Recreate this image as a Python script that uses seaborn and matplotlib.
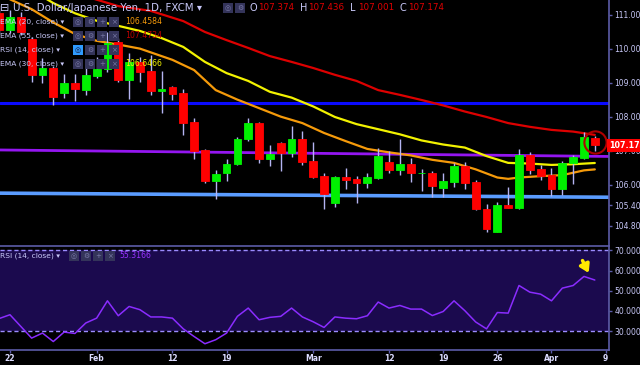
import numpy as np
import pandas as pd
import seaborn as sns
import matplotlib.pyplot as plt
from matplotlib.patches import Rectangle
from matplotlib.transforms import blended_transform_factory

# daily USD/JPY candles, Jan 19 .. Apr 6 2018 (weekdays)
dates = pd.bdate_range('2018-01-19', '2018-04-06')
opens = [111.06, 110.56, 110.94, 110.29, 109.24, 109.44, 108.71, 109.00, 108.79, 109.21,
         109.41, 110.21, 109.09, 109.62, 109.35, 108.76, 108.88, 108.71, 107.85, 107.03,
         106.12, 106.35, 106.62, 107.35, 107.82, 106.76, 107.24, 106.94, 107.35, 106.71,
         106.26, 105.47, 106.24, 106.18, 106.06, 106.21, 106.68, 106.44, 106.62, 106.34,
         106.35, 105.91, 106.09, 106.56, 106.09, 105.29, 104.62, 105.41, 105.32, 106.88,
         106.47, 106.29, 105.88, 106.65, 106.79, 107.374]
highs = [111.29, 111.15, 111.09, 110.35, 109.74, 109.50, 109.26, 109.26, 109.53, 109.76,
         110.50, 110.32, 109.88, 109.76, 109.82, 109.35, 108.91, 108.82, 107.97, 107.06,
         106.44, 106.76, 107.41, 107.97, 107.85, 107.18, 107.26, 107.74, 107.59, 107.26,
         106.35, 106.26, 106.50, 106.26, 106.35, 107.09, 107.00, 107.35, 106.79, 106.47,
         106.41, 106.35, 106.65, 106.68, 106.15, 105.44, 105.50, 105.94, 107.06, 106.97,
         106.59, 106.50, 106.71, 106.88, 107.56, 107.436]
lows = [110.44, 110.47, 110.41, 109.03, 109.00, 108.35, 108.56, 108.47, 108.65, 109.15,
        109.32, 109.03, 108.53, 109.03, 108.65, 108.12, 108.50, 107.47, 106.76, 106.06,
        105.59, 106.12, 106.59, 107.29, 106.65, 106.56, 106.41, 106.82, 106.59, 106.21,
        105.29, 105.35, 105.88, 105.47, 105.91, 106.18, 106.35, 106.29, 106.09, 105.82,
        105.65, 105.65, 105.94, 105.88, 105.26, 104.62, 104.62, 105.32, 105.30, 106.32,
        106.15, 105.68, 105.71, 106.03, 106.76, 107.001]
closes = [110.56, 110.94, 110.50, 109.24, 109.44, 108.59, 109.00, 108.82, 109.24, 109.41,
          110.18, 109.09, 109.62, 109.32, 108.76, 108.82, 108.68, 107.82, 107.00, 106.12,
          106.32, 106.62, 107.35, 107.82, 106.76, 106.91, 106.94, 107.35, 106.68, 106.24,
          105.74, 106.24, 106.15, 106.06, 106.24, 106.85, 106.44, 106.62, 106.35, 106.36,
          105.97, 106.12, 106.56, 106.06, 105.29, 104.71, 105.41, 105.32, 106.88, 106.44,
          106.26, 105.88, 106.65, 106.82, 107.41, 107.174]

rsi = [36.2, 38.1, 32.3, 26.5, 29.0, 24.8, 29.5, 28.8, 34.0, 36.4,
       45.0, 37.6, 42.2, 40.6, 37.0, 37.0, 36.4, 31.1, 27.3, 23.7,
       25.7, 29.0, 37.3, 41.4, 35.6, 36.8, 37.3, 41.4, 37.0, 34.6,
       31.8, 37.0, 36.4, 36.1, 37.6, 44.4, 41.4, 42.7, 40.9, 40.9,
       37.7, 39.7, 45.0, 40.1, 34.5, 31.1, 39.2, 38.9, 52.6, 49.3,
       48.3, 45.0, 51.3, 52.6, 57.1, 55.3166]

# EMA lines
ema20_days = ['2018-01-22', '2018-01-24', '2018-01-26', '2018-01-30', '2018-02-01', '2018-02-05',
              '2018-02-07', '2018-02-09', '2018-02-12', '2018-02-14', '2018-02-16', '2018-02-20',
              '2018-02-22', '2018-02-26', '2018-02-28', '2018-03-02', '2018-03-06', '2018-03-08',
              '2018-03-12', '2018-03-14', '2018-03-16', '2018-03-20', '2018-03-22', '2018-03-26',
              '2018-03-27', '2018-03-28', '2018-03-30', '2018-04-03', '2018-04-05', '2018-04-06']
ema20 = [111.46, 111.17, 110.78, 110.44, 110.24, 110.13, 110.01, 109.79, 109.68, 109.38,
         108.79, 108.51, 108.26, 108.01, 107.82, 107.53, 107.29, 107.06, 106.96, 106.87,
         106.74, 106.65, 106.46, 106.22, 106.18, 106.22, 106.26, 106.29, 106.43, 106.4584]

ema30_days = ['2018-01-25', '2018-01-26', '2018-01-30', '2018-02-01', '2018-02-05', '2018-02-07',
              '2018-02-09', '2018-02-13', '2018-02-15', '2018-02-19', '2018-02-21', '2018-02-23',
              '2018-02-27', '2018-03-01', '2018-03-05', '2018-03-07', '2018-03-09', '2018-03-13',
              '2018-03-15', '2018-03-19', '2018-03-21', '2018-03-23', '2018-03-27', '2018-03-29',
              '2018-04-02', '2018-04-04', '2018-04-06']
ema30 = [111.54, 111.35, 111.05, 110.83, 110.68, 110.53, 110.32, 110.06, 109.62, 109.29,
         109.06, 108.74, 108.57, 108.31, 108.00, 107.79, 107.64, 107.49, 107.31, 107.19,
         107.10, 106.85, 106.65, 106.63, 106.59, 106.61, 106.6466]

ema55_days = ['2018-01-31', '2018-02-01', '2018-02-05', '2018-02-08', '2018-02-13', '2018-02-15',
              '2018-02-19', '2018-02-21', '2018-02-23', '2018-02-27', '2018-03-01', '2018-03-05',
              '2018-03-07', '2018-03-09', '2018-03-13', '2018-03-15', '2018-03-19', '2018-03-21',
              '2018-03-23', '2018-03-27', '2018-03-29', '2018-04-02', '2018-04-04', '2018-04-06']
ema55 = [111.55, 111.45, 111.26, 111.12, 110.82, 110.50, 110.26, 110.03, 109.79, 109.62,
         109.44, 109.24, 109.06, 108.79, 108.65, 108.50, 108.34, 108.16, 108.00, 107.82,
         107.71, 107.62, 107.57, 107.4734]

# drawn support / trend lines (price at Jan 19 and Apr 9)
resist_level = 108.40
purple_line = [107.03, 106.84]
support_line = [105.76, 105.64]

price_ticks = [111.0, 110.0, 109.0, 108.0, 107.0, 106.0, 105.4, 104.8]
rsi_ticks = [70, 60, 50, 40, 30]
tick_days = ['2018-01-22', '2018-02-01', '2018-02-12', '2018-02-19', '2018-03-01',
             '2018-03-12', '2018-03-19', '2018-03-26', '2018-04-02', '2018-04-09']
tick_labels = ['22', 'Feb', '12', '19', 'Mar', '12', '19', '26', 'Apr', '9']

start = '2018-01-19'
def bar_pos(days):
    return np.busday_count(start, np.array(days, dtype='datetime64[D]'))

sns.set_theme(style='dark', rc={'axes.facecolor': 'black', 'figure.facecolor': 'black'})
plt.rcParams['font.family'] = ['DejaVu Sans']

LAV = '#c8c8f8'
AXC = '#5c5ca8'

fig = plt.figure(figsize=(6.4, 3.65), dpi=100)
ax = fig.add_axes([0, 120 / 365, 609 / 640, 245 / 365])
ax2 = fig.add_axes([0, 15 / 365, 609 / 640, 104 / 365], sharex=ax)

pos = np.arange(len(dates))
o = np.array(opens)
c = np.array(closes)
col = np.where(c >= o, '#00f000', '#ff0000')

# lines behind candles
ax.axhline(resist_level, color='#0b0bff', lw=2.2, zorder=1)
ax.axline((0, purple_line[0]), (56, purple_line[1]), color='#9416f0', lw=2, zorder=1)
ax.axline((0, support_line[0]), (56, support_line[1]), color='#5a9cff', lw=2.6, zorder=1)

sns.lineplot(x=bar_pos(ema55_days), y=ema55, ax=ax, color='#dd0000', lw=1.6, zorder=2)
sns.lineplot(x=bar_pos(ema30_days), y=ema30, ax=ax, color='#f2f200', lw=1.6, zorder=2)
sns.lineplot(x=bar_pos(ema20_days), y=ema20, ax=ax, color='#f59a0a', lw=1.6, zorder=2)

ax.vlines(pos, lows, highs, color='#b4b4f2', lw=1, zorder=3)
ax.bar(pos, c - o, bottom=o, width=0.72, color=col, edgecolor=col, lw=0.6, zorder=4)

# circle around last candle
ax.plot([pos[-1]], [107.27], marker='o', ms=16, mfc='none', mec='#b00000', mew=1.5, zorder=5)

ax.set_xlim(0.08, 56.31)
ax.set_ylim(104.235, 111.44)
ax.yaxis.tick_right()
ax.set_yticks(price_ticks)
ax.set_yticklabels([f'{t:.3f}' for t in price_ticks])
ax.tick_params(axis='y', colors=AXC, labelcolor=LAV, labelsize=5.5, length=2.5, width=1, pad=1.5, right=True)
ax.tick_params(axis='x', bottom=False, labelbottom=False)
ax.set_xlabel('')
ax.set_ylabel('')
ax.grid(False)
for s in ['top', 'left', 'bottom']:
    ax.spines[s].set_visible(False)
ax.spines['right'].set_color(AXC)
ax.spines['right'].set_linewidth(1.2)

tr = blended_transform_factory(ax.transAxes, ax.transData)
ax.text(1.0, closes[-1], '107.174', transform=tr, ha='left', va='center', fontsize=5.8,
        color='white', fontweight='bold', clip_on=False, zorder=10,
        bbox=dict(boxstyle='square,pad=0.25', fc='#ff0000', ec='none'))

# RSI pane
ax2.axhspan(30, 70, color='#1b0a4e', zorder=0, lw=0)
ax2.axhline(70, color='#9c8cff', lw=1, ls=(0, (3, 2)), zorder=1)
ax2.axhline(30, color='#9c8cff', lw=1, ls=(0, (3, 2)), zorder=1)
sns.lineplot(x=pos, y=rsi, ax=ax2, color='#8a2cff', lw=1.1, zorder=3)
ax2.annotate('', xy=(54.55, 57.6), xytext=(53.75, 66.2),
             arrowprops=dict(arrowstyle='-|>,head_width=0.25,head_length=0.4', color='#ffea00', lw=2.5), zorder=6)
ax2.set_ylim(20.6, 72.2)
ax2.yaxis.tick_right()
ax2.set_yticks(rsi_ticks)
ax2.set_yticklabels([f'{t:.4f}' for t in rsi_ticks])
ax2.set_xticks(bar_pos(tick_days))
ax2.set_xticklabels(tick_labels)
ax2.tick_params(axis='y', colors=AXC, labelcolor=LAV, labelsize=5.5, length=2.5, width=1, pad=1.5, right=True)
ax2.tick_params(axis='x', colors=AXC, labelcolor='#dcdcff', labelsize=5.5, length=2, width=1, pad=1, bottom=True)
for lab in ax2.get_xticklabels():
    lab.set_fontweight('bold')
ax2.set_xlabel('')
ax2.set_ylabel('')
ax2.grid(False)
ax2.spines['left'].set_visible(False)
for s in ['top', 'right', 'bottom']:
    ax2.spines[s].set_color(AXC)
    ax2.spines[s].set_linewidth(1.2)

# header / legend overlay
def fx(x):
    return x / 640
def fy(y):
    return 1 - y / 365

def icons(x0, y, n, first_blue=False):
    syms = ['◎', '⚙', '+', '×']
    for k in range(n):
        xx = x0 + k * 12
        fc = '#2f9bff' if (first_blue and k == 0) else '#34345a'
        fig.add_artist(Rectangle((fx(xx), fy(y + 5)), 10 / 640, 10 / 365, transform=fig.transFigure,
                                 fc=fc, ec='none', zorder=8))
        fig.text(fx(xx + 5), fy(y), syms[k], fontsize=5, color='#15153a' if (first_blue and k == 0) else '#7a7aa8',
                 ha='center', va='center', zorder=9)

fig.text(fx(0), fy(8), '⊟', fontsize=8, color=LAV, va='center', zorder=9)
fig.text(fx(13), fy(8), 'U.S. Dollar/Japanese Yen, 1D, FXCM ▾', fontsize=7.4, color=LAV, va='center', zorder=9)
icons(223, 8, 2)
x = 250
for letter, val in zip('OHLC', ['107.374', '107.436', '107.001', '107.174']):
    fig.text(fx(x), fy(8), letter, fontsize=7, color=LAV, va='center', zorder=9)
    fig.text(fx(x + 8), fy(8), val, fontsize=6.3, color='#e00000', va='center', zorder=9)
    x += 50

rows = [('EMA (20, close) ▾', '106.4584', '#f59a0a', 22),
        ('EMA (55, close) ▾', '107.4734', '#c00000', 36),
        ('RSI (14, close) ▾', '', '', 50),
        ('EMA (30, close) ▾', '106.6466', '#f2f200', 64)]
for name, val, vc, y in rows:
    fig.text(fx(0), fy(y), name, fontsize=5.4, color=LAV, va='center', zorder=9)
    icons(73, y, 4, first_blue=(val == ''))
    if val:
        fig.text(fx(125), fy(y), val, fontsize=5.6, color=vc, va='center', zorder=9)

fig.text(fx(0), fy(256), 'RSI (14, close) ▾', fontsize=5.4, color=LAV, va='center', zorder=9)
icons(69, 256, 4)
fig.text(fx(119), fy(256), '55.3166', fontsize=5.6, color='#9933ff', va='center', zorder=9)

fig.savefig('out.png', dpi=100, facecolor='black')
